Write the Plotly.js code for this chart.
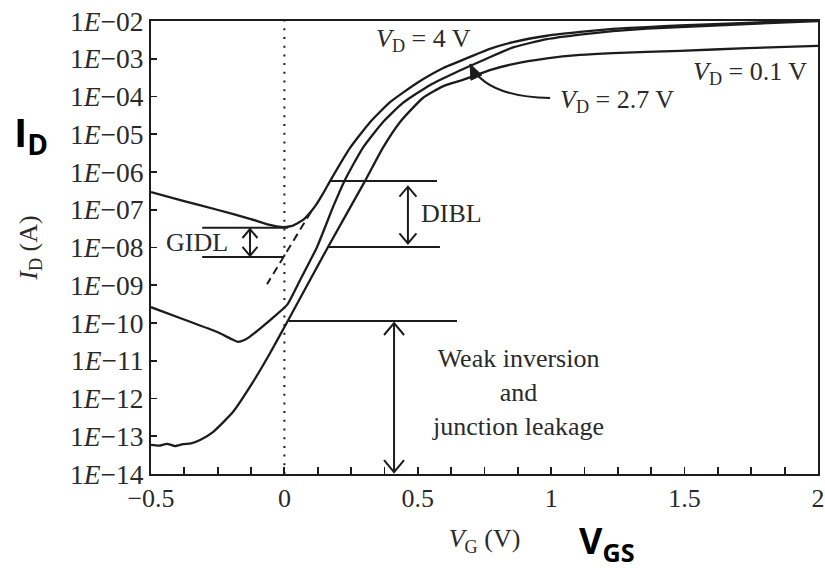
<!DOCTYPE html>
<html>
<head>
<meta charset="utf-8">
<script src="https://cdn.plot.ly/plotly-3.0.1.min.js"></script>
<style>html,body{margin:0;padding:0;background:#fff;}#chart{width:825px;height:570px;}</style>
</head>
<body>
<div id="chart"></div>
<script>
// ---------------- data ----------------
// V_D = 0.1 V
const vgVd01 = [-0.5, -0.47, -0.44, -0.41, -0.38, -0.35, -0.316, -0.268, -0.193, -0.121, -0.054, 0.010, 0.163, 0.302, 0.369, 0.433, 0.519, 0.594, 0.669, 0.770, 0.857, 0.984, 1.108, 1.231, 1.483, 1.734, 2.0];
const idVd01 = [5.89e-14, 5.62e-14, 6.31e-14, 5.50e-14, 6.17e-14, 6.46e-14, 7.94e-14, 1.29e-13, 4.37e-13, 2.51e-12, 1.58e-11, 1.05e-10, 1.02e-8, 5.75e-7, 4.37e-6, 2.09e-5, 9.12e-5, 1.86e-4, 2.75e-4, 5.01e-4, 7.24e-4, 1.02e-3, 1.26e-3, 1.41e-3, 1.62e-3, 1.91e-3, 2.19e-3];
// V_D = 2.7 V
const vgVd27 = [-0.5, -0.379, -0.252, -0.2, -0.174, -0.150, -0.129, -0.080, -0.035, 0.010, 0.059, 0.122, 0.182, 0.227, 0.294, 0.369, 0.444, 0.545, 0.646, 0.751, 0.857, 0.984, 1.108, 1.231, 1.359, 1.483, 1.734, 2.0];
const idVd27 = [2.63e-10, 1.26e-10, 5.75e-11, 3.80e-11, 3.16e-11, 3.55e-11, 4.37e-11, 8.32e-11, 1.55e-10, 3.02e-10, 1.38e-9, 1.02e-8, 1.17e-7, 6.17e-7, 4.37e-6, 2.09e-5, 6.76e-5, 2.00e-4, 4.47e-4, 9.55e-4, 2.00e-3, 3.31e-3, 4.37e-3, 5.37e-3, 6.31e-3, 6.92e-3, 8.32e-3, 1.00e-2];
// V_D = 4 V
const vgVd4 = [-0.5, -0.376, -0.252, -0.129, -0.054, -0.005, 0.028, 0.070, 0.096, 0.118, 0.144, 0.171, 0.246, 0.321, 0.396, 0.497, 0.594, 0.696, 0.770, 0.857, 0.984, 1.108, 1.231, 1.359, 1.483, 1.734, 2.0];
const idVd4 = [2.95e-7, 1.70e-7, 1.00e-7, 5.75e-8, 3.98e-8, 3.47e-8, 3.72e-8, 5.37e-8, 8.32e-8, 1.32e-7, 2.63e-7, 5.75e-7, 4.37e-6, 2.09e-5, 7.08e-5, 2.29e-4, 5.62e-4, 1.12e-3, 1.82e-3, 2.75e-3, 4.07e-3, 5.13e-3, 6.17e-3, 6.92e-3, 7.59e-3, 8.91e-3, 1.07e-2];
// extrapolated subthreshold line of V_D = 4 V (dashed)
const vgExtrap = [0.100, -0.065];
const idExtrap = [8.91e-8, 1.07e-9];

// tick labels
const xTickVals = [-0.5, 0, 0.5, 1, 1.5, 2];
const xTickText = ['\u22120.5', '0', '0.5', '1', '1.5', '2'];
const yTickVals = [1e-2, 1e-3, 1e-4, 1e-5, 1e-6, 1e-7, 1e-8, 1e-9, 1e-10, 1e-11, 1e-12, 1e-13, 1e-14];
const yTickText = ['1<i>E</i>\u221202', '1<i>E</i>\u221203', '1<i>E</i>\u221204', '1<i>E</i>\u221205', '1<i>E</i>\u221206', '1<i>E</i>\u221207', '1<i>E</i>\u221208', '1<i>E</i>\u221209', '1<i>E</i>\u221210', '1<i>E</i>\u221211', '1<i>E</i>\u221212', '1<i>E</i>\u221213', '1<i>E</i>\u221214'];

// ---------------- annotation geometry (V, log10 I) ----------------
const gidlLevels = [-7.48, -8.25];
const diblLevels = [-6.24, -7.99];
const weakLevel = -9.95;

// ---------------- drawing ----------------
const INK = '#1c1c1c';
const TXT = '#2a2a2a';
const SERIF = 'Liberation Serif, Times New Roman, serif';
const W = 667, H = 453;
const xr = [-0.5, 2], yr = [-14, -2];
function xp(v) { return (v - xr[0]) / (xr[1] - xr[0]); }
function yp(l) { return (l - yr[0]) / (yr[1] - yr[0]); }
function seg(v0, l0, v1, l1) {
  return {type: 'line', xref: 'paper', yref: 'paper', x0: xp(v0), y0: yp(l0), x1: xp(v1), y1: yp(l1), line: {color: INK, width: 2}};
}
function chevron(v, l, dir, w, h) {
  const x = xp(v), y = yp(l), a = w / 2 / W, b = dir * h / H;
  return {type: 'path', xref: 'paper', yref: 'paper',
    path: 'M' + (x - a).toFixed(5) + ',' + (y - b).toFixed(5) + ' L' + x.toFixed(5) + ',' + y.toFixed(5) + ' L' + (x + a).toFixed(5) + ',' + (y - b).toFixed(5),
    line: {color: INK, width: 2}};
}
function pxToPaper(px, py) { return [px / W, 1 - py / H]; }
function dataToPx(v, l) { return [xp(v) * W, (1 - yp(l)) * H]; }

function curveStyle() { return {mode: 'lines', line: {color: INK, width: 2.3, shape: 'spline', smoothing: 0.5}, hoverinfo: 'skip', showlegend: false}; }
const traces = [
  Object.assign({x: vgVd01, y: idVd01, name: 'V_D = 0.1 V'}, curveStyle()),
  Object.assign({x: vgVd27, y: idVd27, name: 'V_D = 2.7 V'}, curveStyle()),
  Object.assign({x: vgVd4, y: idVd4, name: 'V_D = 4 V'}, curveStyle()),
  {x: vgExtrap, y: idExtrap, mode: 'lines', line: {color: INK, width: 2, dash: '8px,5px'}, hoverinfo: 'skip', showlegend: false}
];

const shapes = [];
// dotted V_G = 0 line
shapes.push({type: 'line', xref: 'x', yref: 'paper', x0: 0, x1: 0, y0: 0, y1: 1, line: {color: INK, width: 2, dash: '2px,6.7px'}});
// GIDL
shapes.push(seg(-0.308, gidlLevels[0], 0.013, gidlLevels[0]));
shapes.push(seg(-0.308, gidlLevels[1], -0.005, gidlLevels[1]));
shapes.push(seg(-0.129, gidlLevels[0] - 0.03, -0.129, gidlLevels[1] + 0.03));
shapes.push(chevron(-0.129, gidlLevels[0] - 0.03, 1, 15, 9));
shapes.push(chevron(-0.129, gidlLevels[1] + 0.03, -1, 15, 9));
// DIBL
shapes.push(seg(0.172, diblLevels[0], 0.572, diblLevels[0]));
shapes.push(seg(0.163, diblLevels[1], 0.583, diblLevels[1]));
shapes.push(seg(0.463, diblLevels[0] - 0.15, 0.463, diblLevels[1] + 0.1));
shapes.push(chevron(0.463, diblLevels[0] - 0.15, 1, 17, 10));
shapes.push(chevron(0.463, diblLevels[1] + 0.1, -1, 17, 10));
// weak inversion / junction leakage
shapes.push(seg(0.017, weakLevel, 0.647, weakLevel));
shapes.push(seg(0.411, weakLevel - 0.05, 0.411, -13.95));
shapes.push(chevron(0.411, weakLevel - 0.05, 1, 20, 12));
shapes.push(chevron(0.411, -13.95, -1, 20, 12));
// curved arrow from the V_D = 2.7 V label
(function () {
  const tail = dataToPx(0.996, -4.04), ctrl = dataToPx(0.753, -4.01), tip = dataToPx(0.696, -3.14);
  const P = function (p) { const q = pxToPaper(p[0], p[1]); return q[0].toFixed(5) + ',' + q[1].toFixed(5); };
  shapes.push({type: 'path', xref: 'paper', yref: 'paper', path: 'M' + P(tail) + ' Q' + P(ctrl) + ' ' + P(tip), line: {color: INK, width: 2}});
  let dx = tip[0] - ctrl[0], dy = tip[1] - ctrl[1];
  const n = Math.hypot(dx, dy); dx /= n; dy /= n;
  const len = 15, hw = 6;
  const base = [tip[0] - len * dx, tip[1] - len * dy];
  const b1 = [base[0] - hw * dy, base[1] + hw * dx], b2 = [base[0] + hw * dy, base[1] - hw * dx];
  shapes.push({type: 'path', xref: 'paper', yref: 'paper', path: 'M' + P(tip) + ' L' + P(b1) + ' L' + P(b2) + ' Z', line: {color: INK, width: 1}, fillcolor: INK});
})();

const annFont = {family: SERIF, size: 26, color: TXT};
function label(v, l, text, extra) {
  return Object.assign({xref: 'x', yref: 'paper', x: v, y: yp(l), xanchor: 'center', yanchor: 'middle', text: text, showarrow: false, font: annFont}, extra || {});
}
const annotations = [
  label(0.523, -2.50, '<i>V</i><sub>D</sub> = 4 V'),
  label(1.745, -3.38, '<i>V</i><sub>D</sub> = 0.1 V'),
  label(1.246, -4.12, '<i>V</i><sub>D</sub> = 2.7 V'),
  label(-0.328, -7.88, 'GIDL'),
  label(0.628, -7.11, 'DIBL'),
  label(0.876, -11.83, 'Weak inversion<br>and<br>junction leakage', {align: 'center'}),
  {xref: 'paper', yref: 'paper', x: -0.2084, xanchor: 'left', y: 0.751, yanchor: 'middle', text: '<b>I<sub>D</sub></b>', showarrow: false, font: {family: 'Open Sans, Noto Sans, sans-serif', size: 40, color: '#000'}},
  {xref: 'paper', yref: 'paper', x: 0.684, xanchor: 'center', y: -0.152, yanchor: 'middle', text: '<b>V<sub>GS</sub></b>', showarrow: false, font: {family: 'Open Sans, Noto Sans, sans-serif', size: 36, color: '#000'}}
];

const layout = {
  width: 825, height: 570,
  margin: {l: 151, r: 7, t: 21, b: 96, pad: 0},
  paper_bgcolor: '#fff', plot_bgcolor: '#fff',
  showlegend: false,
  font: {family: SERIF, size: 26, color: TXT},
  xaxis: {
    range: xr, tickmode: 'array', tickvals: xTickVals, ticktext: xTickText,
    ticks: 'inside', ticklen: 7, tickwidth: 1.8, tickcolor: INK,
    minor: {dtick: 0.125, tick0: 0, ticks: 'inside', ticklen: 7, tickwidth: 1.8, tickcolor: INK, showgrid: false},
    showline: true, linewidth: 2, linecolor: INK, mirror: true,
    showgrid: false, zeroline: false, tickfont: {family: SERIF, size: 26, color: TXT},
    title: {text: '<i>V</i><sub>G</sub> (V)', font: {family: SERIF, size: 26, color: TXT}, standoff: 17}
  },
  yaxis: {
    type: 'log', range: yr, tickmode: 'array', tickvals: yTickVals, ticktext: yTickText,
    ticks: 'inside', ticklen: 6, tickwidth: 1.8, tickcolor: INK,
    showline: true, linewidth: 2, linecolor: INK, mirror: true,
    showgrid: false, zeroline: false, tickfont: {family: SERIF, size: 27.5, color: TXT},
    title: {text: '<i>I</i><sub>D</sub> (A)', font: {family: SERIF, size: 26, color: TXT}, standoff: 25}
  },
  shapes: shapes,
  annotations: annotations
};

Plotly.newPlot('chart', traces, layout, {staticPlot: true, displayModeBar: false});
</script>
</body>
</html>
